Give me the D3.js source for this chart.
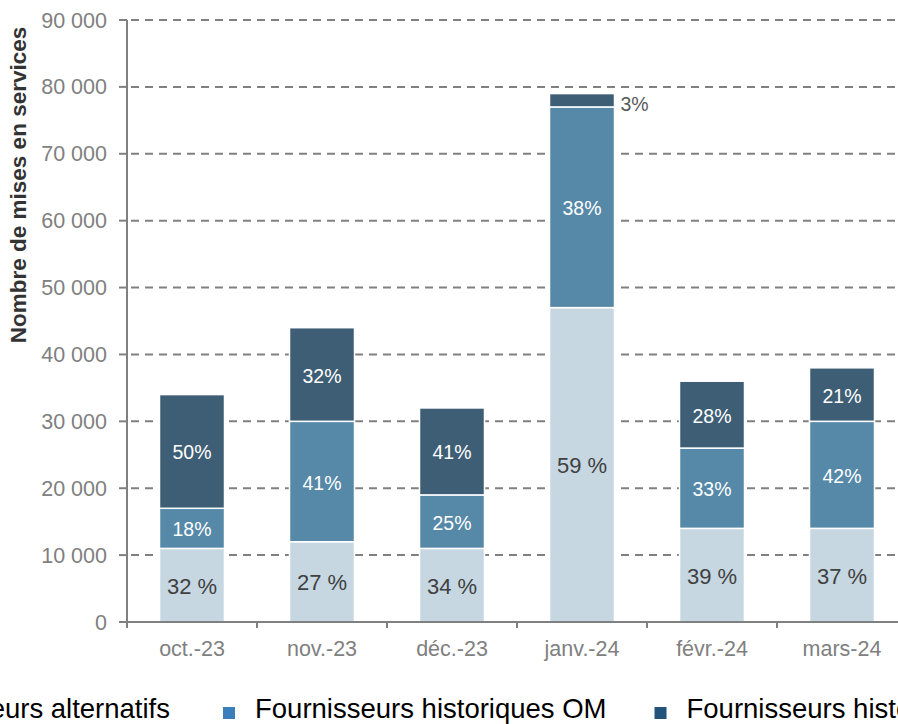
<!DOCTYPE html>
<html>
<head>
<meta charset="utf-8">
<script src="https://cdn.jsdelivr.net/npm/d3@7"></script>
<style>
  body { margin: 0; background: #fff; }
  svg { display: block; font-family: "Liberation Sans", Arial, sans-serif; }
</style>
</head>
<body>
<div class="graph"></div>
<script>
// données
const categories = ['oct.-23', 'nov.-23', 'déc.-23', 'janv.-24', 'févr.-24', 'mars-24']
const alternatifs = [11000, 12000, 11000, 47000, 14000, 14000]
const historiquesOM = [6000, 18000, 8000, 30000, 12000, 16000]
const historiquesAutres = [17000, 14000, 13000, 2000, 10000, 8000]
const pctAlternatifs = ['32 %', '27 %', '34 %', '59 %', '39 %', '37 %']
const pctOM = ['18%', '41%', '25%', '38%', '33%', '42%']
const pctAutres = ['50%', '32%', '41%', '3%', '28%', '21%']
const yTicks = [0, 10000, 20000, 30000, 40000, 50000, 60000, 70000, 80000, 90000]
const seriesNames = ['Fournisseurs alternatifs', 'Fournisseurs historiques OM', 'Fournisseurs historiques autres']

// tailles
const width = 898, height = 724
const plotLeft = 127, plotTop = 20, plotBottom = 622

const colBars = ['#c6d7e2', '#5688a8', '#3e5e75']
const colLegend = ['#c6d7e2', '#3a7ebb', '#23527a']
const grey = '#808080'

const svg = d3.select('.graph')
  .append('svg')
  .attr('width', width)
  .attr('height', height)

const y = d3.scaleLinear().domain([0, 90000]).range([plotBottom, plotTop])
const x = d3.scaleBand().domain(categories).range([plotLeft, plotLeft + 780])
  .paddingInner(0.5).paddingOuter(0.25)

const fmt = v => d3.format(',')(v).replace(/,/g, ' ')

// grille
svg.append('g').selectAll('line')
  .data(yTicks.filter(d => d > 0))
  .enter().append('line')
  .attr('x1', plotLeft).attr('x2', width)
  .attr('y1', d => y(d)).attr('y2', d => y(d))
  .attr('stroke', grey)
  .attr('stroke-width', 2)
  .attr('stroke-dasharray', '8,6')
  .attr('stroke-dashoffset', -4)

// empilement
const table = categories.map((c, i) => ({
  cat: c, alt: alternatifs[i], om: historiquesOM[i], autres: historiquesAutres[i]
}))
const stack = d3.stack().keys(['alt', 'om', 'autres'])(table)

const gBars = svg.append('g')
stack.forEach((layer, k) => {
  gBars.selectAll('.s' + k)
    .data(layer)
    .enter().append('rect')
    .attr('class', 's' + k)
    .attr('x', d => x(d.data.cat))
    .attr('width', x.bandwidth())
    .attr('y', d => y(d[1]))
    .attr('height', d => y(d[0]) - y(d[1]))
    .attr('fill', colBars[k])
    .attr('stroke', '#fff')
    .attr('stroke-width', 1.5)
})

// étiquettes
const labels = [pctAlternatifs, pctOM, pctAutres]
stack.forEach((layer, k) => {
  layer.forEach((d, i) => {
    const small = (d[1] - d[0]) < 4000
    const t = svg.append('text')
      .text(labels[k][i])
      .attr('dominant-baseline', 'central')
    if (small) {
      t.attr('x', x(d.data.cat) + x.bandwidth() + 6)
        .attr('y', y((d[0] + d[1]) / 2) + 4)
        .attr('fill', '#595959')
        .style('font-size', '19.5px')
    } else {
      t.attr('x', x(d.data.cat) + x.bandwidth() / 2)
        .attr('y', y((d[0] + d[1]) / 2) + 1)
        .attr('text-anchor', 'middle')
        .attr('fill', k === 0 ? '#404040' : '#fff')
        .style('font-size', k === 0 ? '22px' : '19.5px')
    }
  })
})

// axe Y
svg.append('line')
  .attr('x1', plotLeft).attr('x2', plotLeft)
  .attr('y1', plotTop).attr('y2', plotBottom + 6)
  .attr('stroke', grey).attr('stroke-width', 2)

svg.append('g').selectAll('line')
  .data(yTicks)
  .enter().append('line')
  .attr('x1', plotLeft - 8).attr('x2', plotLeft)
  .attr('y1', d => y(d)).attr('y2', d => y(d))
  .attr('stroke', grey).attr('stroke-width', 2)

svg.append('g').selectAll('text')
  .data(yTicks)
  .enter().append('text')
  .attr('x', plotLeft - 20)
  .attr('y', d => y(d))
  .attr('dy', '0.35em')
  .attr('text-anchor', 'end')
  .attr('fill', grey)
  .style('font-size', '21.5px')
  .text(d => fmt(d))

// axe X
svg.append('line')
  .attr('x1', plotLeft).attr('x2', width)
  .attr('y1', plotBottom).attr('y2', plotBottom)
  .attr('stroke', grey).attr('stroke-width', 2)

svg.append('g').selectAll('line')
  .data(categories)
  .enter().append('line')
  .attr('x1', d => x(d) + x.bandwidth() + x.step() * x.paddingInner() / 2)
  .attr('x2', d => x(d) + x.bandwidth() + x.step() * x.paddingInner() / 2)
  .attr('y1', plotBottom).attr('y2', plotBottom + 6)
  .attr('stroke', grey).attr('stroke-width', 2)

svg.append('g').selectAll('text')
  .data(categories)
  .enter().append('text')
  .attr('x', d => x(d) + x.bandwidth() / 2)
  .attr('y', plotBottom + 26)
  .attr('dy', '0.35em')
  .attr('text-anchor', 'middle')
  .attr('fill', grey)
  .style('font-size', '21.5px')
  .text(d => d)

// titre Y
svg.append('text')
  .text('Nombre de mises en services')
  .attr('transform', `translate(26,185) rotate(-90)`)
  .attr('text-anchor', 'middle')
  .attr('fill', '#333')
  .style('font-weight', 'bold')
  .style('font-size', '22.5px')

// légende
const legend = svg.append('g')
const gaps = [0, 85, 80]
let cursor = 170
seriesNames.forEach((name, i) => {
  const item = legend.append('g')
  const txt = item.append('text')
    .text(name)
    .attr('y', 718)
    .attr('fill', '#000')
    .style('font-size', '27.5px')
  const w = txt.node().getComputedTextLength()
  const tx = i === 0 ? cursor - w : cursor + gaps[i]
  txt.attr('x', tx)
  item.append('rect')
    .attr('x', tx - 32)
    .attr('y', 707)
    .attr('width', 12)
    .attr('height', 12)
    .attr('fill', colLegend[i])
  cursor = tx + w
})
</script>
</body>
</html>
